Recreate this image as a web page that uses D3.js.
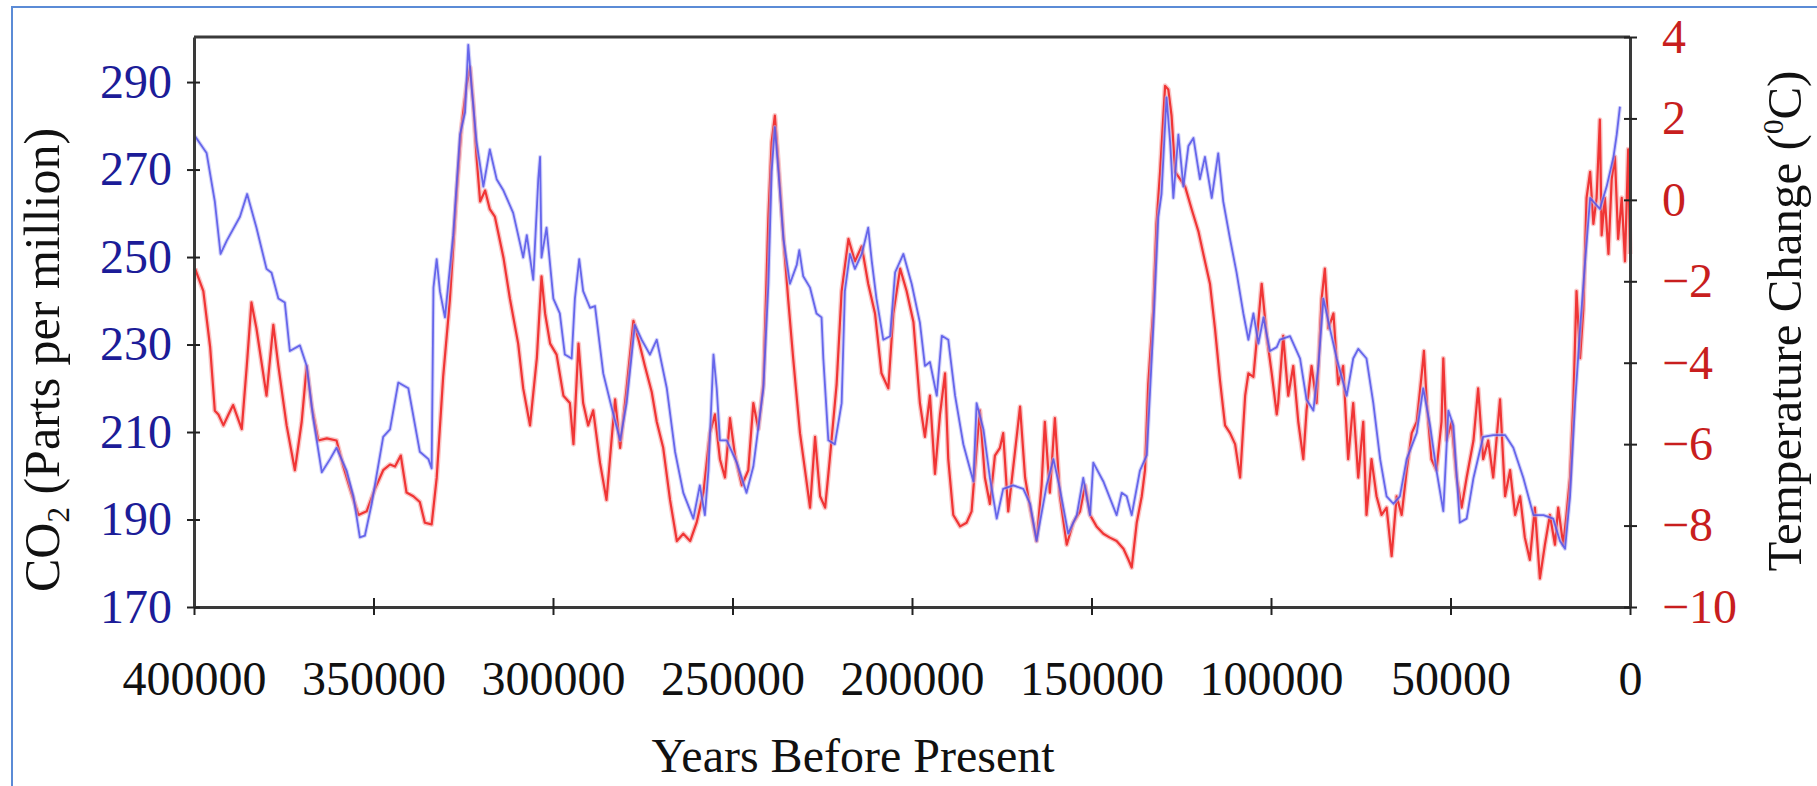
<!DOCTYPE html>
<meta charset="utf-8">

<!-- Load d3.js -->
<script src="https://d3js.org/d3.v7.js"></script>

<style>
  body { margin: 0; background: #fff; }
</style>

<div id="my_dataviz"></div>

<script>
// CO2 record (years before present, ppm)
var co2Years = [399700,396500,394200,392600,390900,387200,385200,382600,379800,378400,376500,374700,373300,370500,368600,366800,364400,362100,360300,357500,355600,353800,352400,350500,347300,345400,343100,340300,337100,334700,333800,333300,332400,331500,330100,327800,325900,324500,323600,322700,321300,319400,317600,315700,313800,311100,308300,307300,305500,304100,303600,303200,301800,299900,298100,
  296700,294800,293900,292700,291600,289700,288300,286000,283700,281300,279500,277200,275300,273000,271100,268300,266000,263700,260900,259100,257700,256700,255300,254400,253500,251600,248800,246100,244200,241400,240000,239100,238200,237200,235800,234000,232100,231400,230300,228400,226600,225200,224700,223300,221500,219600,218700,217300,215900,214000,212200,211200,209900,208000,206100,204700,202400,200100,197800,
  196400,195000,193100,191700,189900,188000,185700,182900,182000,180100,178300,176400,174600,171800,169000,167100,165300,162500,160600,158800,156500,154100,152300,150400,149500,146700,143000,141600,140200,138800,136500,134600,132800,131400,130500,129100,128100,127200,125800,124400,123000,121600,119800,118400,116500,114700,113300,111400,109600,107700,106300,104900,103500,102100,100300,98400,
  97500,94700,91900,90100,88200,86800,85400,83600,81700,78900,77100,75700,73400,71500,69600,67800,65900,64100,62200,59400,57600,55700,53900,52000,50600,49200,47400,45500,43600,40900,38100,34800,32500,29700,26900,24100,21400,19500,18100,16700,15300,13900,12500,11100,8400,6500,4600,3700,2800]
var co2Values = [277.6,273.8,262.7,250.7,253.7,259.2,264.4,256.7,247.3,246.4,240.5,239.6,228.5,229.8,225.1,213.2,200.8,203.8,206.4,201.2,195.3,185.9,186.3,193.6,208.9,210.6,221.3,220.0,205.5,203.8,201.7,243.0,249.5,242.2,236.2,255.0,278.0,283.1,298.5,289.1,276.3,266.1,274.6,267.8,265.2,260.1,249.9,255.0,244.8,267.8,272.9,249.9,256.7,240.5,237.1,
  227.7,226.8,240.5,249.5,242.2,238.4,238.8,223.4,215.7,208.1,216.6,234.5,231.1,227.7,231.1,220.0,205.5,196.1,190.2,197.8,191.0,201.2,227.7,220.0,208.1,208.1,203.0,196.1,202.1,220.0,243.9,269.5,279.7,269.5,254.1,243.9,248.2,251.6,245.6,243.0,237.1,236.2,226.8,208.1,207.2,216.6,242.2,250.7,247.3,250.7,256.7,249.0,240.5,231.1,231.9,246.5,250.7,243.9,235.0,
  225.1,226.0,218.3,232.0,231.1,218.3,207.2,198.7,216.6,210.6,199.5,190.2,197.0,197.8,197.0,193.6,185.1,197.8,203.8,197.0,186.8,191.0,199.5,191.0,203.0,198.7,191.0,196.1,195.3,191.0,201.2,204.7,233.7,259.2,264.4,286.5,276.3,263.5,278.0,266.1,275.4,277.2,267.8,272.9,263.5,273.7,262.7,254.1,246.5,237.1,231.1,237.1,230.2,236.2,228.5,229.4,
  231.1,231.9,226.8,217.4,214.9,225.1,240.5,233.7,226.8,218.3,226.8,229.0,226.8,216.6,203.8,195.3,193.6,195.3,203.8,209.8,220.0,211.5,201.2,191.9,214.9,211.5,189.3,190.2,199.5,208.9,209.3,209.3,206.4,199.5,191.0,191.0,190.2,185.1,183.3,195.3,216.6,233.7,249.0,263.5,261.0,266.1,272.9,278.0,284.4]

// temperature change record (years before present, deg C)
var tempYears = [399700,397400,395500,394200,393200,391800,390400,389100,386700,385300,384000,382600,379800,377900,376500,374200,371900,370000,368600,367200,365400,363000,360300,358400,356500,354200,351900,349600,347300,345400,344000,342400,340800,338900,337100,335700,333800,332400,330600,328700,326800,325500,324100,323100,322200,321300,320300,318900,317600,316200,313800,312000,309700,308300,306400,304500,303200,302200,300800,299000,
  297100,295300,294300,292900,291600,290200,288800,286900,285100,283700,282700,281300,279500,277600,276200,274400,272500,271100,269300,267400,265500,263700,261800,260000,258100,256300,254900,253500,252100,250700,249300,247400,245600,244200,242800,241400,240000,239100,238200,237200,235800,234500,233100,231200,229800,228400,227000,225600,224200,222900,221000,219600,217700,215900,214000,212200,210300,208500,206600,205200,203300,201500,199600,
  197800,196400,195000,193600,192200,190800,189900,188500,186600,184800,183400,182000,181100,179700,178300,176900,175500,174600,173200,171300,169900,168500,167100,165300,163900,163000,161600,160200,158800,156900,155100,153200,151800,150400,148600,146700,145000,143000,141100,139700,138800,137400,136000,135100,134200,132800,131900,130900,129500,128600,127700,126700,125300,123900,122100,120200,118400,117000,115600,114200,112800,111400,110000,108600,107200,106300,104900,103500,102600,101200,99800,98400,
  98000,96600,95200,93800,92400,91000,90100,88700,87300,85900,85000,84000,82600,81300,79900,78500,77100,75700,74300,73400,72000,70600,69200,67800,66400,65000,63600,62200,60800,59400,58000,57400,56600,55300,53900,52500,52000,51100,49700,48300,46900,45500,43600,42300,40900,39500,38100,36200,34800,33400,32000,30600,29300,27900,26500,25100,23700,22300,20900,20000,18600,17700,16700,15800,14900,13900,13000,12100,11100,10200,9300,8400,7900,7000,6000,5100,4200,3300,2300,1400,500,0]
var tempValues = [-1.69,-2.24,-3.62,-5.18,-5.27,-5.54,-5.27,-5.04,-5.63,-4.08,-2.52,-3.16,-4.81,-3.07,-4.08,-5.54,-6.64,-5.45,-4.08,-5.08,-5.91,-5.86,-5.91,-6.55,-7.10,-7.74,-7.65,-7.10,-6.64,-6.50,-6.55,-6.28,-7.19,-7.28,-7.42,-7.93,-7.97,-6.83,-4.35,-2.43,0.23,1.79,2.80,3.26,2.34,1.06,-0.04,0.23,-0.23,-0.41,-1.42,-2.43,-3.53,-4.63,-5.54,-3.89,-1.88,-2.79,-3.53,-3.80,
  -4.81,-4.99,-6.00,-3.53,-4.99,-5.54,-5.17,-6.46,-7.37,-5.91,-4.90,-6.09,-4.63,-2.97,-3.43,-4.08,-4.72,-5.45,-6.09,-7.37,-8.38,-8.20,-8.38,-7.93,-7.19,-5.73,-5.27,-6.37,-6.82,-5.36,-6.28,-7.01,-6.64,-4.99,-5.63,-4.53,-0.41,1.42,2.07,0.87,-0.96,-2.43,-3.89,-5.73,-6.64,-7.56,-5.82,-7.28,-7.56,-6.37,-4.53,-2.24,-0.96,-1.51,-1.14,-2.06,-2.79,-4.26,-4.63,-2.79,-1.69,-2.24,-3.00,
  -4.99,-5.82,-4.81,-6.73,-5.27,-4.26,-6.37,-7.74,-8.02,-7.93,-7.65,-6.09,-5.17,-6.82,-7.47,-6.28,-6.09,-5.73,-7.65,-6.18,-5.08,-6.82,-7.56,-8.38,-7.01,-5.45,-7.19,-5.36,-7.28,-8.47,-7.93,-7.65,-7.01,-7.74,-8.02,-8.20,-8.29,-8.38,-8.57,-8.84,-9.03,-7.93,-7.28,-6.64,-4.53,-2.70,-0.59,0.69,2.80,2.71,2.07,0.69,0.51,0.32,-0.23,-0.78,-1.51,-2.06,-3.16,-4.44,-5.54,-5.73,-6.00,-6.82,-4.81,-4.26,-4.35,-2.97,-2.06,-3.34,-4.26,-5.27,
  -4.99,-3.34,-4.81,-4.08,-5.45,-6.37,-5.17,-4.08,-4.99,-2.43,-1.69,-3.16,-2.79,-4.53,-4.08,-6.37,-4.99,-6.82,-5.45,-7.74,-6.37,-7.28,-7.74,-7.56,-8.75,-7.28,-7.74,-6.64,-5.73,-5.45,-4.26,-3.71,-4.99,-6.37,-6.64,-5.45,-3.89,-5.91,-5.45,-6.82,-7.56,-6.82,-5.91,-4.63,-6.37,-5.91,-6.82,-4.90,-7.28,-6.64,-7.74,-7.28,-8.29,-8.84,-7.56,-9.30,-8.47,-7.74,-8.47,-7.56,-8.47,-7.74,-6.82,-4.99,-2.24,-3.89,-2.70,0.05,0.69,-0.59,0.05,1.97,-0.87,0.05,-1.33,0.51,1.06,-0.96,0.05,-1.51,1.24,-1.33]

// tick values for the three axes
var yearTicks = [400000,350000,300000,250000,200000,150000,100000,50000,0]
var co2Ticks = [170,190,210,230,250,270,290]
var tempTicks = [-10,-8,-6,-4,-2,0,2,4]

// set the dimensions and margins of the graph
const margin = {top: 37, right: 187, bottom: 179, left: 194},
  width = 1817 - margin.left - margin.right,
  height = 786 - margin.top - margin.bottom;

const serif = "'Liberation Serif', 'Times New Roman', serif"

const root = d3.select("#my_dataviz")
  .append("svg")
    .attr("width", 1817)
    .attr("height", 786)

// thin blue frame of the picture (only top and left edges show)
root.append("path")
  .attr("d", "M12,786 V7 H1817")
  .attr("fill", "none")
  .attr("stroke", "#5b8bd6")
  .attr("stroke-width", 2)

const svg = root.append("g")
  .attr("transform", `translate(${margin.left},${margin.top})`);

// scales
const x = d3.scaleLinear().domain([400000, 0]).range([0, width])
const yCO2 = d3.scaleLinear().domain([170, 300.3]).range([height, 0])
const yTemp = d3.scaleLinear().domain([-10, 4]).range([height, 0])

const co2Data = co2Years.map((d, i) => [d, co2Values[i]])
const tempData = tempYears.map((d, i) => [d, tempValues[i]])

const lineCO2 = d3.line().x(d => x(d[0])).y(d => yCO2(d[1]))
const lineTemp = d3.line().x(d => x(d[0])).y(d => yTemp(d[1]))

// temperature first, CO2 drawn over it (a soft wide stroke under a sharper one)
svg.append("path").datum(tempData)
  .attr("d", lineTemp).attr("fill", "none")
  .attr("stroke", "#f7a3a3").attr("stroke-width", 5).attr("stroke-linejoin", "round")
  .attr("opacity", 0.6)
svg.append("path").datum(tempData)
  .attr("d", lineTemp).attr("fill", "none")
  .attr("stroke", "#ee2525").attr("stroke-width", 2.2).attr("stroke-linejoin", "round")
  .attr("opacity", 0.9)

svg.append("path").datum(co2Data)
  .attr("d", lineCO2).attr("fill", "none")
  .attr("stroke", "#b0b0f6").attr("stroke-width", 4).attr("stroke-linejoin", "round")
  .attr("opacity", 0.55)
svg.append("path").datum(co2Data)
  .attr("d", lineCO2).attr("fill", "none")
  .attr("stroke", "#5252e8").attr("stroke-width", 1.8).attr("stroke-linejoin", "round")
  .attr("opacity", 0.85)

// top edge of the frame
svg.append("line")
  .attr("x1", 0).attr("x2", width).attr("y1", 0).attr("y2", 0)
  .attr("stroke", "#3a3a3a").attr("stroke-width", 3)

// axes: ticks cross the axis line
function styleAxis(g, color, inward) {
  g.select(".domain").attr("stroke", "#3a3a3a").attr("stroke-width", 3)
  g.selectAll(".tick line").attr("stroke", "#222").attr("stroke-width", 2)
  g.selectAll(".tick text")
    .attr("fill", color)
    .attr("font-family", serif)
    .attr("font-size", 48)
  inward(g.selectAll(".tick line"))
}

svg.append("g")
  .attr("transform", `translate(0,${height})`)
  .call(d3.axisBottom(x).tickValues(yearTicks).tickFormat(d3.format("d"))
    .tickSize(8).tickSizeOuter(0).tickPadding(46))
  .call(g => styleAxis(g, "#111", l => l.attr("y1", -9)))

svg.append("g")
  .call(d3.axisLeft(yCO2).tickValues(co2Ticks).tickSize(7).tickSizeOuter(0).tickPadding(15))
  .call(g => styleAxis(g, "#1c1c98", l => l.attr("x1", 6)))

svg.append("g")
  .attr("transform", `translate(${width},0)`)
  .call(d3.axisRight(yTemp).tickValues(tempTicks).tickSize(7).tickSizeOuter(0).tickPadding(25))
  .call(g => styleAxis(g, "#c81e1e", l => l.attr("x1", -6)))

// axis titles
root.append("text")
  .attr("x", 853).attr("y", 772)
  .attr("text-anchor", "middle")
  .attr("font-family", serif).attr("font-size", 48).attr("fill", "#111")
  .text("Years Before Present")

const leftTitle = root.append("text")
  .attr("transform", "translate(59,360) rotate(-90)")
  .attr("text-anchor", "middle")
  .attr("font-family", serif).attr("font-size", 50).attr("fill", "#111")
leftTitle.append("tspan").text("CO")
leftTitle.append("tspan").attr("font-size", 31).attr("dy", 10).text("2")
leftTitle.append("tspan").attr("dy", -10).text(" (Parts per million)")

const rightTitle = root.append("text")
  .attr("transform", "translate(1801,321) rotate(-90)")
  .attr("text-anchor", "middle")
  .attr("font-family", serif).attr("font-size", 49).attr("fill", "#111")
rightTitle.append("tspan").text("Temperature Change (")
rightTitle.append("tspan").attr("font-size", 29).attr("dy", -18).text("0")
rightTitle.append("tspan").attr("dy", 18).text("C)")
</script>
